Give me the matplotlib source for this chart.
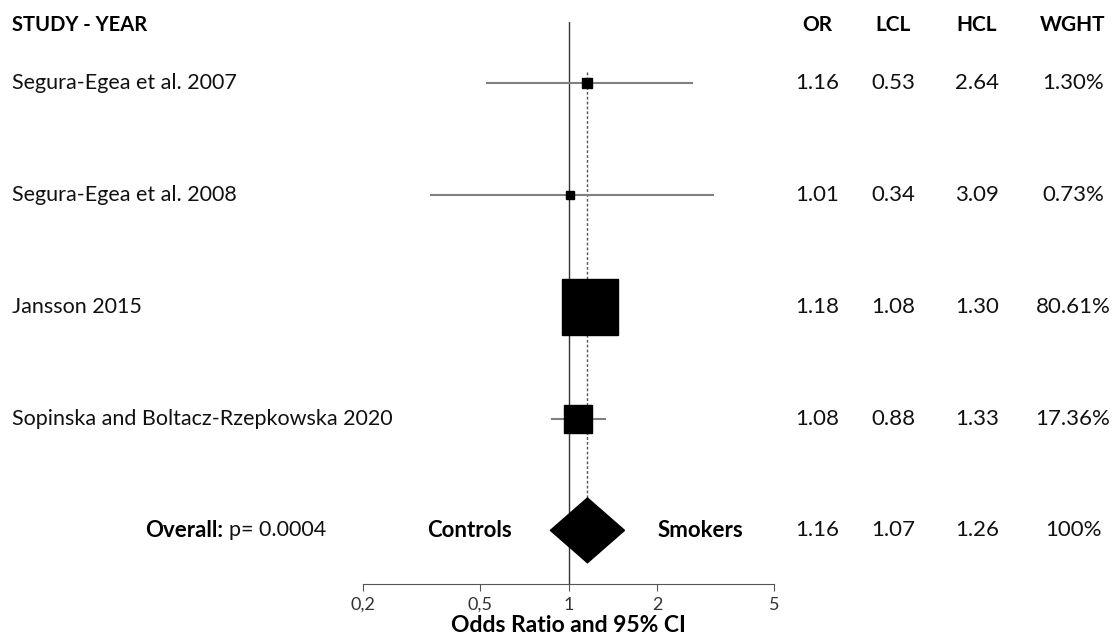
import numpy as np
import matplotlib.pyplot as plt
from matplotlib.patches import Polygon
from matplotlib.transforms import blended_transform_factory
from matplotlib.ticker import NullLocator

plt.rcParams['font.family'] = ['Lato', 'DejaVu Sans']

studies = ["Segura-Egea et al. 2007", "Segura-Egea et al. 2008",
           "Jansson 2015", "Sopinska and Boltacz-Rzepkowska 2020"]
odds = [1.16, 1.01, 1.18, 1.08]
lcl = [0.53, 0.34, 1.08, 0.88]
hcl = [2.64, 3.09, 1.30, 1.33]
weights = [1.30, 0.73, 80.61, 17.36]
weight_labels = ["1.30%", "0.73%", "80.61%", "17.36%"]

overall_or = 1.16
overall_lcl = 1.07
overall_hcl = 1.26
overall_weight = "100%"
overall_p = "0.0004"

ticks = [0.2, 0.5, 1, 2, 5]
tick_labels = ["0,2", "0,5", "1", "2", "5"]

W, H = 1114, 639
fig = plt.figure(figsize=(W / 100, H / 100), dpi=100)
ax = fig.add_axes([363 / W, 1 - 584 / H, 411 / W, 562 / H])

ax.set_xscale("log")
ax.set_xlim(0.2, 5)
ax.set_ylim(4.48, -0.55)
for s in ["top", "left", "right"]:
    ax.spines[s].set_visible(False)
ax.spines["bottom"].set_color("#555555")
ax.set_yticks([])
ax.set_xticks(ticks)
ax.set_xticklabels(tick_labels, fontsize=13, color="#333333")
ax.xaxis.set_minor_locator(NullLocator())
ax.tick_params(axis="x", direction="out", length=5, color="#555555", pad=4)
ax.set_xlabel("Odds Ratio and 95% CI", fontsize=16.5, fontweight="bold", labelpad=2)

# reference lines
ax.axvline(1, color="#333333", lw=1.0, zorder=1)
ax.vlines(overall_or, -0.1, 4.0, colors="#555555", lw=1.0, linestyles=(0, (2, 1.5)), zorder=1)

rows = np.arange(len(studies))
for i in rows:
    ax.plot([lcl[i], hcl[i]], [i, i], color="#808080", lw=1.5, zorder=2)
    side_px = 4 + 5.8 * np.sqrt(weights[i])
    ax.plot(odds[i], i, marker="s", color="black", markersize=side_px * 0.72,
            linestyle="none", zorder=3)

# overall diamond
yo = len(studies)
half_w = 0.126  # in log10 units
half_h = 0.29
cx = np.log10(overall_or)
diamond = Polygon([(10 ** (cx - half_w), yo), (10 ** cx, yo - half_h),
                   (10 ** (cx + half_w), yo), (10 ** cx, yo + half_h)],
                  closed=True, color="black", zorder=3)
ax.add_patch(diamond)

tr = blended_transform_factory(fig.transFigure, ax.transData)
fs = 15.5
fv = 16

# header
hy = -0.52
ax.text(12 / W, hy, "STUDY - YEAR", transform=tr, fontsize=14.5, fontweight="bold",
        va="center", ha="left")
cols_x = [817 / W, 893 / W, 977 / W, 1073 / W]
for x, lab in zip(cols_x, ["OR", "LCL", "HCL", "WGHT"]):
    ax.text(x, hy, lab, transform=tr, fontsize=15, fontweight="bold",
            va="center", ha="center")

for i in rows:
    ax.text(12 / W, i, studies[i], transform=tr, fontsize=fs, va="center", ha="left",
            color="#111111")
    vals = ["%.2f" % odds[i], "%.2f" % lcl[i], "%.2f" % hcl[i], weight_labels[i]]
    for x, v in zip(cols_x, vals):
        ax.text(x, i, v, transform=tr, fontsize=fv, va="center", ha="center",
                color="#111111")

vals = ["%.2f" % overall_or, "%.2f" % overall_lcl, "%.2f" % overall_hcl, overall_weight]
for x, v in zip(cols_x, vals):
    ax.text(x, yo, v, transform=tr, fontsize=fv, va="center", ha="center", color="#111111")

ax.text(229 / W, yo, "p= " + overall_p, transform=tr, fontsize=15.5, va="center",
        ha="left", color="#111111")
ax.text(223 / W, yo, "Overall:", transform=tr, fontsize=16, fontweight="bold",
        va="center", ha="right")
ax.text(469 / W, yo, "Controls", transform=tr, fontsize=16, fontweight="bold",
        va="center", ha="center")
ax.text(700 / W, yo, "Smokers", transform=tr, fontsize=16, fontweight="bold",
        va="center", ha="center")

fig.savefig("out.png", dpi=100)
